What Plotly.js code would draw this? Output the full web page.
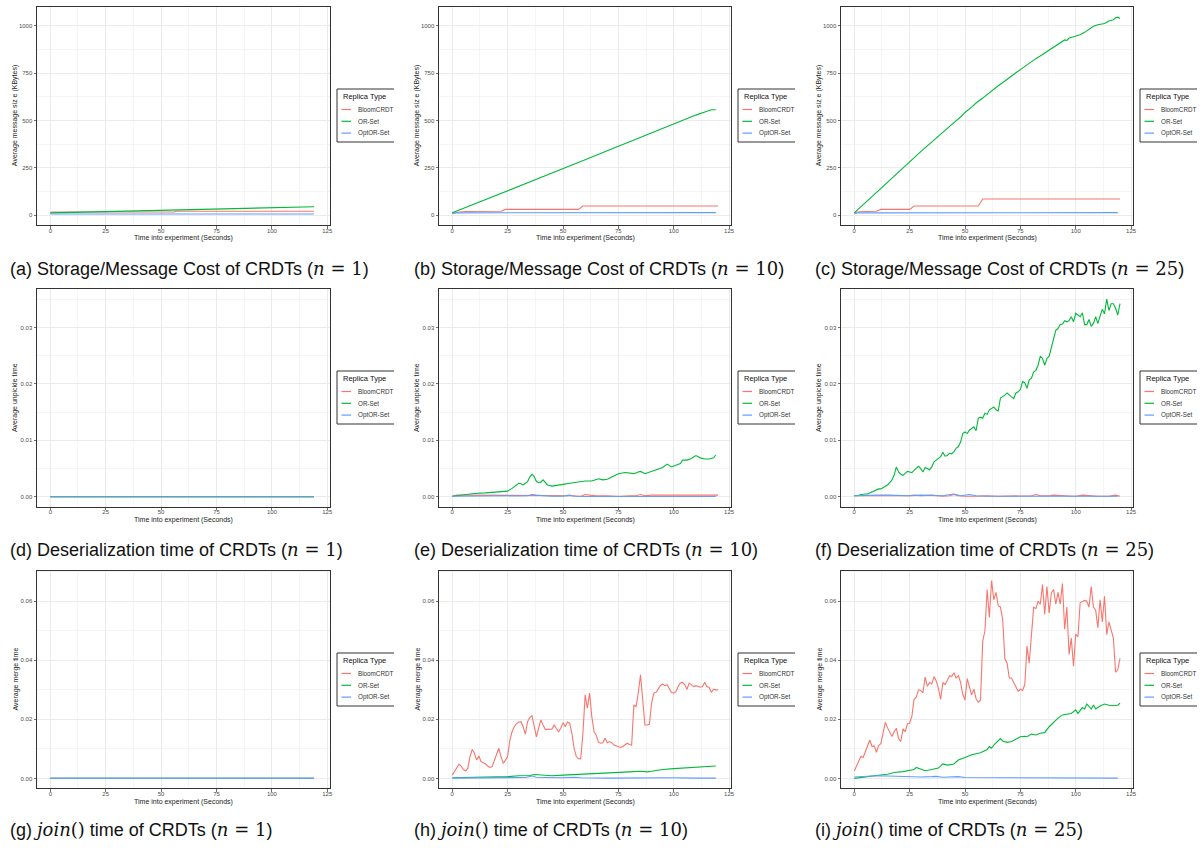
<!DOCTYPE html>
<html><head><meta charset="utf-8">
<script src="https://cdn.plot.ly/plotly-3.0.1.min.js"></script>
<style>html,body{margin:0;padding:0;background:#fff}#chart{width:1203px;height:850px}</style>
</head><body><div id="chart"></div>
<script>
// ---------------- DATA ----------------
const SERIES_NAMES = ['BloomCRDT', 'OR-Set', 'OptOR-Set'];
const SERIES_COLORS = ['#F8766D', '#00BA38', '#619CFF'];
const X_TITLE = 'Time into experiment (Seconds)';
const Y_TITLES = ['Average message siz e (KBytes)', 'Average unpickle time', 'Average merge time'];
const LEGEND_TITLE = 'Replica Type';
const PANEL_LETTERS = ['a','b','c','d','e','f','g','h','i'];
const ROW_CAPTIONS = ['Storage/Message Cost of CRDTs', 'Deserialization time of CRDTs', 'time of CRDTs'];
const N_VALUES = [1, 10, 25];

// per-second time stamps
const T_SEC = [0,1,2,3,4,5,6,7,8,9,10,11,12,13,14,15,16,17,18,19,20,21,22,23,24,25,26,27,28,29,30,31,32,33,34,35,36,37,38,39,40,41,42,43,44,45,46,47,48,49,50,51,52,53,54,55,56,57,58,59,60,61,62,63,64,65,66,67,68,69,70,71,72,73,74,75,76,77,78,79,80,81,82,83,84,85,86,87,88,89,90,91,92,93,94,95,96,97,98,99,100,101,102,103,104,105,106,107,108,109,110,111,112,113,114,115,116,117,118,119,120];

// (a) n = 1 message size
const A_BLOOM_T = [0, 1, 56, 57, 119];
const A_BLOOM   = [14, 16, 16, 20, 20];
const A_OR_T    = [0, 30, 60, 90, 119];
const A_OR      = [12, 20, 28, 36, 44];
const A_OPT_T   = [0, 119];
const A_OPT     = [6, 6];

// (b) n = 10 message size
const B_BLOOM_T = [0, 6, 22, 24, 57, 59, 120];
const B_BLOOM   = [12, 19, 20, 30, 30, 48, 48];
const B_OR_T    = [0, 10, 20, 30, 40, 50, 60, 70, 80, 90, 100, 110, 115, 117, 119];
const B_OR      = [12, 58, 105, 152, 198, 246, 292, 340, 387, 435, 483, 528, 548, 556, 556];
const B_OPT_T   = [0, 2, 119];
const B_OPT     = [8, 12, 13];

// (c) n = 25 message size
const C_BLOOM_T = [0, 2, 10, 12, 25, 27, 56, 58, 120];
const C_BLOOM   = [12, 18, 20, 30, 30, 48, 48, 85, 85];
const C_OR_T    = [0,1,2,3,5,8,10,12,15,18,20,22,25,28,30,33,35,38,40,43,45,48,50,53,55,58,60,63,65,68,70,73,75,78,80,82,85,88,90,92,94,95,96,97,99,100,102,104,106,108,110,112,113,115,117,118,119,120];
const C_OR      = [12,22,33,44,66,98,120,142,174,206,228,250,282,314,335,366,387,418,438,468,488,518,542,570,592,618,638,665,683,708,727,752,768,793,812,826,848,872,888,905,920,925,922,935,942,944,952,965,980,997,1005,1012,1012,1025,1032,1042,1045,1038];
const C_OPT_T   = [0, 2, 119];
const C_OPT     = [8, 12, 13];

// (d) n = 1 unpickle time
const D_T     = [0, 119];
const D_BLOOM = [0, 0];
const D_OR    = [0, 0];
const D_OPT   = [0, 0];

// (e) n = 10 unpickle time
const E_BLOOM_T = [0,2,5,10,15,20,25,30,35,40,45,50,55,58,60,62,65,70,75,80,83,85,87,90,95,100,102,105,110,115,120];
const E_BLOOM   = [0.0001,0.0003,0.0003,0.0003,0.0002,0.0003,0.0002,0.0003,0.0003,0.0003,0.0003,0.0002,0.0002,0.0001,0.0004,0.0003,0.0002,0.0002,0.0001,0.0002,0.0002,0.0004,0.0002,0.0003,0.0003,0.0003,0.0004,0.0003,0.0003,0.0003,0.0003];
const E_OR_T    = [0,5,10,15,20,25,27,29,30,31,32,33,34,35,36,37,38,39,40,41,42,43,45,48,50,53,56,60,63,66,68,70,73,75,78,80,82,84,85,87,89,91,93,95,97,99,101,103,104,106,108,110,112,114,116,118,119];
const E_OR      = [0.0001,0.00035,0.0006,0.0007,0.0008,0.001,0.0015,0.0021,0.0024,0.0023,0.0021,0.0024,0.0027,0.0035,0.004,0.0036,0.0027,0.0025,0.0026,0.003,0.0026,0.0021,0.0019,0.002,0.0022,0.0024,0.0026,0.0028,0.0028,0.0032,0.003,0.0031,0.0037,0.0041,0.0043,0.0042,0.0041,0.0044,0.0045,0.0041,0.0044,0.0047,0.005,0.0052,0.0058,0.0053,0.0056,0.0059,0.0065,0.0065,0.0068,0.0073,0.0069,0.0067,0.0067,0.0069,0.0074];
const E_OPT_T   = [0,10,20,30,34,36,38,45,50,53,55,60,70,80,90,100,110,119];
const E_OPT     = [0.0001,0.0001,0.0001,0.0001,0.0002,0.0004,0.0003,0.0001,0.0001,0.0003,0.0001,0.00005,0.00005,0.00005,0.00005,0.00005,0.00005,0.00005];

// (f) n = 25 unpickle time
const F_BLOOM_T = [0,5,10,15,20,25,27,30,35,40,43,45,47,50,55,60,65,70,75,80,82,84,88,90,95,100,103,106,110,115,118,120];
const F_BLOOM   = [0.0002,0.0002,0.0001,0.0001,0.0001,0.0002,0.0003,0.0002,0.0003,0.0001,0.0002,0.0004,0.0002,0.0001,0.0001,0.0002,0.0001,0.0001,0.0002,0.0002,0.0004,0.0002,0.0002,0.0003,0.0002,0.0001,0.0003,0.0002,0.0001,0.0001,0.0003,0.0001];
const F_OR      = [0.0002,0.0002,0.00025,0.0004,0.0005,0.0005,0.0005,0.0007,0.0009,0.0011,
                   0.0013,0.0014,0.0014,0.0016,0.0018,0.0021,0.0025,0.003,0.0038,0.0053,
                   0.0044,0.004,0.0038,0.0041,0.0045,0.0044,0.0043,0.0047,0.0051,0.0054,
                   0.005,0.0044,0.0052,0.005,0.0048,0.0053,0.0062,0.0065,0.0068,0.0071,
                   0.0079,0.0072,0.0073,0.0077,0.0076,0.008,0.0086,0.0089,0.0097,0.0112,
                   0.0115,0.0112,0.0118,0.0121,0.0124,0.0117,0.0139,0.0141,0.0139,0.0148,
                   0.0146,0.0154,0.0156,0.0159,0.0154,0.0152,0.0175,0.0177,0.018,0.0184,
                   0.018,0.0177,0.0174,0.0184,0.0186,0.019,0.0204,0.0202,0.0192,0.0207,
                   0.021,0.0221,0.0224,0.0233,0.0249,0.0245,0.0233,0.0245,0.0249,0.0266,
                   0.028,0.0295,0.0298,0.0305,0.0306,0.0312,0.031,0.0312,0.0319,0.031,
                   0.0325,0.0322,0.0319,0.0326,0.0305,0.0305,0.0314,0.0302,0.0307,0.0319,
                   0.0307,0.032,0.0332,0.0324,0.035,0.033,0.0342,0.0342,0.0334,0.0322,
                   0.0342];
const F_OPT_T   = [0,5,10,15,20,25,30,35,40,45,48,52,55,60,70,80,90,100,110,119];
const F_OPT     = [0.0002,0.0003,0.0003,0.0003,0.0002,0.0002,0.0003,0.0003,0.0002,0.0005,0.0002,0.0004,0.0002,0.0001,0.0001,0.0001,0.0001,0.0001,0.0001,0.0001];

// (g) n = 1 merge time
const G_T     = [0, 119];
const G_BLOOM = [0, 0];
const G_OR    = [0, 0];
const G_OPT   = [0, 0];

// (h) n = 10 merge time
const H_BLOOM = [0.0011,0.0023,0.0037,0.0048,0.0042,0.003,0.0026,0.0034,0.0074,0.0098,
                 0.0085,0.0062,0.0076,0.0057,0.0053,0.0049,0.0042,0.0037,0.004,0.0062,
                 0.008,0.0102,0.0074,0.0051,0.0062,0.0074,0.013,0.0158,0.0175,0.0185,
                 0.019,0.0192,0.0175,0.015,0.0192,0.0206,0.0212,0.0181,0.0141,0.017,
                 0.0198,0.0181,0.0166,0.0166,0.0166,0.0167,0.0181,0.017,0.0158,0.017,
                 0.0189,0.0175,0.0191,0.0187,0.0153,0.0102,0.0074,0.0067,0.0066,0.0153,
                 0.0283,0.0238,0.0289,0.021,0.0158,0.0147,0.0122,0.0119,0.0121,0.0136,
                 0.0121,0.0125,0.0121,0.0113,0.011,0.0108,0.0105,0.0108,0.0113,0.0119,
                 0.0115,0.0113,0.0249,0.0243,0.029,0.0351,0.0266,0.0181,0.0181,0.0183,
                 0.0255,0.0289,0.0292,0.0303,0.0314,0.032,0.0314,0.0317,0.0302,0.0291,
                 0.0289,0.0294,0.0311,0.0323,0.0325,0.0317,0.0302,0.0323,0.0317,0.0311,
                 0.0314,0.0311,0.0309,0.0311,0.0326,0.0311,0.0308,0.0291,0.0302,0.030,
                 0.030];
const H_OR_T    = [0,10,20,25,30,35,37,40,45,50,60,70,75,80,85,88,90,95,100,105,110,115,119];
const H_OR      = [0.0002,0.0003,0.0005,0.0006,0.0009,0.001,0.0013,0.0011,0.0009,0.0011,0.0014,0.0018,0.0021,0.0022,0.0024,0.0022,0.0024,0.003,0.0033,0.0036,0.0039,0.004,0.0042];
const H_OPT_T   = [0,10,20,30,33,36,38,42,50,55,58,70,80,90,100,110,119];
const H_OPT     = [0.0001,0.0001,0.0002,0.0002,0.0003,0.0008,0.0004,0.0003,0.0002,0.0004,0.0002,0.0001,0.0002,0.0001,0.0002,0.0001,0.0001];

// (i) n = 25 merge time
const I_BLOOM = [0.0025,0.004,0.0058,0.0075,0.0071,0.009,0.0115,0.013,0.0108,0.011,
                 0.0088,0.0112,0.0118,0.0155,0.019,0.0172,0.0155,0.0142,0.0158,0.017,
                 0.0135,0.0125,0.0168,0.0158,0.0185,0.0187,0.021,0.0268,0.0275,0.030,
                 0.0298,0.029,0.0343,0.0312,0.0325,0.032,0.0345,0.033,0.0305,0.0268,
                 0.0325,0.0318,0.0332,0.0348,0.0345,0.0358,0.034,0.0348,0.0325,0.0285,
                 0.0265,0.0338,0.031,0.0283,0.0302,0.027,0.0258,0.0265,0.0465,0.050,
                 0.064,0.0545,0.067,0.0605,0.063,0.0585,0.058,0.054,0.0405,0.039,
                 0.034,0.034,0.0325,0.031,0.0295,0.0302,0.0298,0.0318,0.0448,0.039,
                 0.050,0.058,0.0575,0.060,0.059,0.0657,0.0555,0.065,0.056,0.0628,
                 0.064,0.059,0.063,0.059,0.066,0.0505,0.058,0.042,0.0475,0.038,
                 0.0488,0.048,0.0595,0.060,0.0603,0.060,0.058,0.065,0.058,0.057,
                 0.051,0.0605,0.053,0.0617,0.0487,0.053,0.050,0.0475,0.036,0.0368,
                 0.0407];
const I_OR_T    = [0,5,10,15,18,22,25,27,28,30,32,35,38,40,42,45,47,50,53,57,60,61,62,63,65,66,67,69,71,73,75,77,78,80,82,84,86,88,90,92,94,96,98,100,101,103,104,105,107,108,109,111,113,115,117,119,120];
const I_OR      = [0.0,0.0006,0.001,0.0014,0.002,0.0023,0.0028,0.003,0.0037,0.0032,0.0026,0.003,0.0035,0.0049,0.0045,0.0049,0.0062,0.0071,0.008,0.0087,0.0098,0.0108,0.0102,0.0113,0.013,0.0135,0.0127,0.0122,0.0125,0.0132,0.0141,0.0143,0.0141,0.015,0.0147,0.0153,0.0155,0.0175,0.019,0.0204,0.0215,0.0218,0.022,0.0232,0.022,0.024,0.0235,0.0252,0.0235,0.0249,0.0235,0.0245,0.0252,0.0248,0.0246,0.0248,0.0255];
const I_OPT_T   = [0,5,10,15,20,25,28,30,35,37,40,45,47,50,55,60,70,80,90,100,110,119];
const I_OPT     = [0.0005,0.0007,0.0009,0.0008,0.0007,0.0005,0.0006,0.0005,0.0006,0.0007,0.0004,0.0004,0.0006,0.0003,0.0003,0.0002,0.0002,0.0003,0.0002,0.0002,0.0002,0.0001];

// panels in reading order: [ [t,v] bloom, [t,v] or-set, [t,v] optor-set ]
const PANELS = [
  [[A_BLOOM_T, A_BLOOM], [A_OR_T, A_OR], [A_OPT_T, A_OPT]],
  [[B_BLOOM_T, B_BLOOM], [B_OR_T, B_OR], [B_OPT_T, B_OPT]],
  [[C_BLOOM_T, C_BLOOM], [C_OR_T, C_OR], [C_OPT_T, C_OPT]],
  [[D_T, D_BLOOM], [D_T, D_OR], [D_T, D_OPT]],
  [[E_BLOOM_T, E_BLOOM], [E_OR_T, E_OR], [E_OPT_T, E_OPT]],
  [[F_BLOOM_T, F_BLOOM], [T_SEC, F_OR], [F_OPT_T, F_OPT]],
  [[G_T, G_BLOOM], [G_T, G_OR], [G_T, G_OPT]],
  [[T_SEC, H_BLOOM], [H_OR_T, H_OR], [H_OPT_T, H_OPT]],
  [[T_SEC, I_BLOOM], [I_OR_T, I_OR], [I_OPT_T, I_OPT]]
];

// ---------------- LAYOUT GEOMETRY ----------------
const W = 1203, H = 850;
const COLS = [[37, 329.5], [439, 731.3], [841, 1133.3]];
const ROWS = [[7.3, 225], [289.3, 506.7], [570.7, 788.3]];
const XRANGE = [-6, 126];
const YRANGES = [[-52.25, 1097.25], [-0.00175, 0.03675], [-0.00335, 0.07035]];
const YDTICK = [250, 0.01, 0.02];
const YFMT = ['d', '.2f', '.2f'];
const YTITLE_X = [15, 417, 819];
const LEGEND_LEFT = [337, 738, 1140];
const LEGEND_TOP = [89, 371, 653];
const LEGEND_H = 53;
const CAPTION_X = [8, 412, 813];
const CAPTION_Y = [268, 549, 829];
const FONT = 'Liberation Sans, Arial, sans-serif';
const MATH = "DejaVu Serif";

const px = x => x / W;
const py = y => 1 - y / H;

const data = [];
const layout = {
  width: W, height: H,
  margin: {l: 0, r: 0, t: 0, b: 0},
  paper_bgcolor: '#fff', plot_bgcolor: '#fff',
  showlegend: false,
  font: {family: FONT},
  annotations: [], shapes: []
};

function mathSpan(s) { return `<span style="font-family:'${MATH}'">${s}</span>`; }

for (let r = 0; r < 3; r++) {
  for (let c = 0; c < 3; c++) {
    const p = r * 3 + c, k = p + 1, s = k === 1 ? '' : String(k);
    layout['xaxis' + s] = {
      domain: [px(COLS[c][0]), px(COLS[c][1])], range: XRANGE, anchor: 'y' + s,
      tickmode: 'linear', tick0: 0, dtick: 25,
      ticks: 'outside', ticklen: 2.5, tickwidth: 0.7, tickcolor: '#333',
      ticklabelstandoff: -3,
      tickfont: {size: 6, color: '#4D4D4D', family: FONT},
      showgrid: true, gridcolor: '#EBEBEB', gridwidth: 1,
      minor: {dtick: 12.5, tick0: 0, showgrid: true, gridcolor: '#F2F2F2', gridwidth: 0.8, ticks: ''},
      showline: true, mirror: true, linecolor: '#333', linewidth: 1,
      zeroline: false, fixedrange: true
    };
    layout['yaxis' + s] = {
      domain: [py(ROWS[r][1]), py(ROWS[r][0])], range: YRANGES[r], anchor: 'x' + s,
      tickmode: 'linear', tick0: 0, dtick: YDTICK[r], tickformat: YFMT[r],
      ticks: 'outside', ticklen: 2.5, tickwidth: 0.7, tickcolor: '#333',
      tickfont: {size: 6, color: '#4D4D4D', family: FONT},
      showgrid: true, gridcolor: '#EBEBEB', gridwidth: 1,
      minor: {dtick: YDTICK[r] / 2, tick0: 0, showgrid: true, gridcolor: '#F2F2F2', gridwidth: 0.8, ticks: ''},
      showline: true, mirror: true, linecolor: '#333', linewidth: 1,
      zeroline: false, fixedrange: true
    };
    PANELS[p].forEach((ser, j) => {
      data.push({
        type: 'scatter', mode: 'lines', x: ser[0], y: ser[1], name: SERIES_NAMES[j],
        xaxis: 'x' + s, yaxis: 'y' + s, hoverinfo: 'skip',
        line: {color: SERIES_COLORS[j], width: 1.1}
      });
    });
    // axis titles
    layout.annotations.push({
      xref: 'paper', yref: 'paper', x: px((COLS[c][0] + COLS[c][1]) / 2), y: py(ROWS[r][1] + 13.3),
      text: X_TITLE, showarrow: false, xanchor: 'center', yanchor: 'middle',
      font: {size: 7, color: '#222', family: FONT}
    });
    layout.annotations.push({
      xref: 'paper', yref: 'paper', x: px(YTITLE_X[c]), y: py((ROWS[r][0] + ROWS[r][1]) / 2),
      text: Y_TITLES[r], showarrow: false, textangle: -90, xanchor: 'center', yanchor: 'middle',
      font: {size: 7, color: '#222', family: FONT}
    });
    // legend
    const L = LEGEND_LEFT[c], T = LEGEND_TOP[r];
    const bl = {type: 'line', xref: 'paper', yref: 'paper', line: {color: '#333', width: 1}};
    layout.shapes.push(Object.assign({}, bl, {x0: px(L), x1: px(L + 57), y0: py(T), y1: py(T)}));
    layout.shapes.push(Object.assign({}, bl, {x0: px(L), x1: px(L), y0: py(T), y1: py(T + LEGEND_H)}));
    layout.shapes.push(Object.assign({}, bl, {x0: px(L), x1: px(L + 57), y0: py(T + LEGEND_H), y1: py(T + LEGEND_H)}));
    layout.annotations.push({
      xref: 'paper', yref: 'paper', x: px(L + 4), y: py(T + 7.8), text: LEGEND_TITLE,
      showarrow: false, xanchor: 'left', yanchor: 'middle', font: {size: 7.5, color: '#111', family: FONT}
    });
    SERIES_NAMES.forEach((nm, j) => {
      const yy = T + 20.5 + j * 11.8;
      layout.shapes.push({type: 'line', xref: 'paper', yref: 'paper', x0: px(L + 4.5), x1: px(L + 14), y0: py(yy), y1: py(yy),
        line: {color: SERIES_COLORS[j], width: 1.2}});
      layout.annotations.push({
        xref: 'paper', yref: 'paper', x: px(L + 19), y: py(yy), text: nm,
        showarrow: false, xanchor: 'left', yanchor: 'middle', font: {size: 6.3, color: '#333', family: FONT}
      });
    });
    // caption
    const head = r === 2 ? mathSpan('<i>join</i>()') + ' ' + ROW_CAPTIONS[r] : ROW_CAPTIONS[r];
    const cap = '(' + PANEL_LETTERS[p] + ') ' + head + ' (' + mathSpan('<i>n</i> = ' + N_VALUES[c]) + ')';
    layout.annotations.push({
      xref: 'paper', yref: 'paper', x: px(CAPTION_X[c]), y: py(CAPTION_Y[r]), text: cap,
      showarrow: false, xanchor: 'left', yanchor: 'middle', font: {size: 18, color: '#111', family: FONT}
    });
  }
}

Plotly.newPlot('chart', data, layout, {staticPlot: true, displayModeBar: false});
</script>
</body></html>
